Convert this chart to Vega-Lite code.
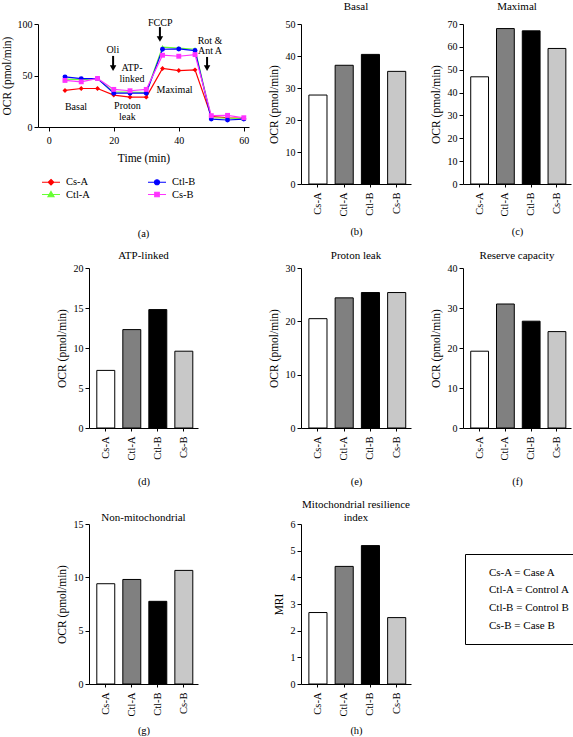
{
  "$schema": "https://vega.github.io/schema/vega-lite/v6.json",
  "background": "white",
  "padding": {"left": 1, "top": 0, "right": 0, "bottom": 0},
  "config": {
    "font": "Liberation Serif",
    "view": {"stroke": null},
    "axis": {
      "domainColor": "black", "tickColor": "black", "labelColor": "black", "titleColor": "black",
      "labelFont": "Liberation Serif", "titleFont": "Liberation Serif",
      "labelFontSize": 10, "titleFontSize": 11.5, "titleFontWeight": "normal",
      "grid": false, "tickSize": 4, "labelPadding": 2, "titlePadding": 6,
      "labelFlush": false, "labelOverlap": false
    },
    "axisBand": {"labelAngle": -90, "tickSize": 3, "labelPadding": 5, "titleFontSize": 10.5, "labelFontSize": 10.5},
    "title": {"font": "Liberation Serif", "fontSize": 11, "fontWeight": "normal", "color": "black", "anchor": "middle"},
    "style": {
      "group-title": {"fontWeight": "normal"},
      "guide-title": {"fontWeight": "normal"}
    },
    "legend": {"labelFont": "Liberation Serif", "labelColor": "black"}
  },
  "datasets": {
    "series": [
      {"series": "Cs-A", "time": 5, "ocr": 35.5}, {"series": "Cs-A", "time": 10, "ocr": 37.4}, {"series": "Cs-A", "time": 15, "ocr": 37.4},
      {"series": "Cs-A", "time": 20, "ocr": 31}, {"series": "Cs-A", "time": 25, "ocr": 29}, {"series": "Cs-A", "time": 30, "ocr": 29},
      {"series": "Cs-A", "time": 35, "ocr": 56.8}, {"series": "Cs-A", "time": 40, "ocr": 54.8}, {"series": "Cs-A", "time": 45, "ocr": 55.5},
      {"series": "Cs-A", "time": 50, "ocr": 10.3}, {"series": "Cs-A", "time": 55, "ocr": 9}, {"series": "Cs-A", "time": 60, "ocr": 8.4},
      {"series": "Ctl-A", "time": 5, "ocr": 46.5}, {"series": "Ctl-A", "time": 10, "ocr": 46}, {"series": "Ctl-A", "time": 15, "ocr": 47},
      {"series": "Ctl-A", "time": 20, "ocr": 34}, {"series": "Ctl-A", "time": 25, "ocr": 34}, {"series": "Ctl-A", "time": 30, "ocr": 33.5},
      {"series": "Ctl-A", "time": 35, "ocr": 77.5}, {"series": "Ctl-A", "time": 40, "ocr": 76.5}, {"series": "Ctl-A", "time": 45, "ocr": 75.5},
      {"series": "Ctl-A", "time": 50, "ocr": 9}, {"series": "Ctl-A", "time": 55, "ocr": 8.5}, {"series": "Ctl-A", "time": 60, "ocr": 8},
      {"series": "Ctl-B", "time": 5, "ocr": 48.7}, {"series": "Ctl-B", "time": 10, "ocr": 47}, {"series": "Ctl-B", "time": 15, "ocr": 47},
      {"series": "Ctl-B", "time": 20, "ocr": 32.8}, {"series": "Ctl-B", "time": 25, "ocr": 32.8}, {"series": "Ctl-B", "time": 30, "ocr": 32.8},
      {"series": "Ctl-B", "time": 35, "ocr": 75.5}, {"series": "Ctl-B", "time": 40, "ocr": 75.8}, {"series": "Ctl-B", "time": 45, "ocr": 74.2},
      {"series": "Ctl-B", "time": 50, "ocr": 7.7}, {"series": "Ctl-B", "time": 55, "ocr": 6.8}, {"series": "Ctl-B", "time": 60, "ocr": 7.7},
      {"series": "Cs-B", "time": 5, "ocr": 45.2}, {"series": "Cs-B", "time": 10, "ocr": 43.9}, {"series": "Cs-B", "time": 15, "ocr": 47.1},
      {"series": "Cs-B", "time": 20, "ocr": 36.5}, {"series": "Cs-B", "time": 25, "ocr": 35.2}, {"series": "Cs-B", "time": 30, "ocr": 36.5},
      {"series": "Cs-B", "time": 35, "ocr": 69.7}, {"series": "Cs-B", "time": 40, "ocr": 68.7}, {"series": "Cs-B", "time": 45, "ocr": 70.3},
      {"series": "Cs-B", "time": 50, "ocr": 11}, {"series": "Cs-B", "time": 55, "ocr": 11.3}, {"series": "Cs-B", "time": 60, "ocr": 9}
    ],
    "notes": [
      {"note": "Basal", "time": 8.4, "ocr": 19.4},
      {"note": "Oli", "time": 19.7, "ocr": 75},
      {"note": "ATP-", "time": 25.6, "ocr": 57.4},
      {"note": "linked", "time": 25.6, "ocr": 47},
      {"note": "Proton", "time": 24.2, "ocr": 20.3},
      {"note": "leak", "time": 24.2, "ocr": 9.7},
      {"note": "FCCP", "time": 34.3, "ocr": 101},
      {"note": "Maximal", "time": 38.7, "ocr": 36.4},
      {"note": "Rot &", "time": 49.6, "ocr": 83.8},
      {"note": "Ant A", "time": 49.6, "ocr": 73.5}
    ],
    "arrows": [
      {"time": 19.8, "ocr": 69, "head": 57.2},
      {"time": 34.2, "ocr": 97, "head": 85.5},
      {"time": 48.7, "ocr": 68, "head": 57.2}
    ],
    "bars": [
      {"panel": "Basal", "group": "Cs-A", "value": 27.8}, {"panel": "Basal", "group": "Ctl-A", "value": 37.1},
      {"panel": "Basal", "group": "Ctl-B", "value": 40.5}, {"panel": "Basal", "group": "Cs-B", "value": 35.2},
      {"panel": "Maximal", "group": "Cs-A", "value": 46.9}, {"panel": "Maximal", "group": "Ctl-A", "value": 68.0},
      {"panel": "Maximal", "group": "Ctl-B", "value": 67.0}, {"panel": "Maximal", "group": "Cs-B", "value": 59.3},
      {"panel": "ATP-linked", "group": "Cs-A", "value": 7.2}, {"panel": "ATP-linked", "group": "Ctl-A", "value": 12.3},
      {"panel": "ATP-linked", "group": "Ctl-B", "value": 14.8}, {"panel": "ATP-linked", "group": "Cs-B", "value": 9.6},
      {"panel": "Proton leak", "group": "Cs-A", "value": 20.5}, {"panel": "Proton leak", "group": "Ctl-A", "value": 24.4},
      {"panel": "Proton leak", "group": "Ctl-B", "value": 25.4}, {"panel": "Proton leak", "group": "Cs-B", "value": 25.4},
      {"panel": "Reserve capacity", "group": "Cs-A", "value": 19.2}, {"panel": "Reserve capacity", "group": "Ctl-A", "value": 31.0},
      {"panel": "Reserve capacity", "group": "Ctl-B", "value": 26.7}, {"panel": "Reserve capacity", "group": "Cs-B", "value": 24.1},
      {"panel": "Non-mitochondrial", "group": "Cs-A", "value": 9.4}, {"panel": "Non-mitochondrial", "group": "Ctl-A", "value": 9.8},
      {"panel": "Non-mitochondrial", "group": "Ctl-B", "value": 7.75}, {"panel": "Non-mitochondrial", "group": "Cs-B", "value": 10.65},
      {"panel": "MRI", "group": "Cs-A", "value": 2.68}, {"panel": "MRI", "group": "Ctl-A", "value": 4.41},
      {"panel": "MRI", "group": "Ctl-B", "value": 5.19}, {"panel": "MRI", "group": "Cs-B", "value": 2.49}
    ]
  },
  "columns": 4,
  "spacing": {"row": 84, "column": 52},
  "bounds": "flush",
  "align": "each",
  "center": {"row": false, "column": true},
  "resolve": {"scale": {"color": "independent", "shape": "independent", "fill": "independent"}},
  "concat": [
    {
      "width": 211, "height": 103,
      "title": {"text": "(a)", "orient": "bottom", "offset": 29, "fontSize": 10.5, "fontWeight": "normal"},
      "layer": [
        {
          "data": {"name": "series"},
          "mark": {"type": "line", "strokeWidth": 1.2},
          "encoding": {
            "x": {"field": "time", "type": "quantitative", "title": "Time (min)",
                  "scale": {"domain": [-3.3, 61.6], "nice": false, "zero": false},
                  "axis": {"values": [0, 10, 20, 30, 40, 50, 60], "labelPadding": 4, "titlePadding": 7, "titleFontWeight": "normal"}},
            "y": {"field": "ocr", "type": "quantitative", "title": "OCR (pmol/min)",
                  "scale": {"domain": [0, 100], "nice": false},
                  "axis": {"values": [0, 25, 50, 75, 100], "titlePadding": 5, "titleFontWeight": "normal"}},
            "color": {"field": "series", "type": "nominal",
                      "scale": {"domain": ["Cs-A", "Ctl-A", "Ctl-B", "Cs-B"], "range": ["#ff0000", "#66ff33", "#0000ff", "#ff33ff"]},
                      "legend": {
                        "orient": "none", "legendX": 7, "legendY": 152, "columns": 2, "title": null,
                        "padding": 0, "labelFontSize": 10.5, "symbolSize": 100, "labelOffset": 9,
                        "rowPadding": 0.5, "columnPadding": 55, "symbolStrokeWidth": 1.2,
                        "encode": {"symbols": {"update": {
                          "shape": {"signal": "datum.value === 'Cs-A' ? 'M-1.8,0H1.8M0,-0.55L0.55,0L0,0.55L-0.55,0Z' : datum.value === 'Ctl-A' ? 'M-1.8,0H1.8M0,-0.6L0.6,0.45L-0.6,0.45Z' : datum.value === 'Ctl-B' ? 'M-1.8,0H1.8M0.5,0A0.5,0.5 0 1,1 -0.5,0A0.5,0.5 0 1,1 0.5,0Z' : 'M-1.8,0H1.8M-0.45,-0.45H0.45V0.45H-0.45Z'"},
                          "fill": {"signal": "datum.value === 'Cs-A' ? '#ff0000' : datum.value === 'Ctl-A' ? '#66ff33' : datum.value === 'Ctl-B' ? '#0000ff' : '#ff33ff'"},
                          "stroke": {"signal": "datum.value === 'Cs-A' ? '#ff0000' : datum.value === 'Ctl-A' ? '#66ff33' : datum.value === 'Ctl-B' ? '#0000ff' : '#ff33ff'"},
                          "strokeWidth": {"value": 1.2},
                          "opacity": {"value": 1}
                        }}}
                      }}
          }
        },
        {
          "data": {"name": "series"},
          "mark": {"type": "point", "filled": true, "size": 24, "opacity": 1},
          "encoding": {
            "x": {"field": "time", "type": "quantitative"},
            "y": {"field": "ocr", "type": "quantitative"},
            "color": {"field": "series", "type": "nominal", "legend": null,
                      "scale": {"domain": ["Cs-A", "Ctl-A", "Ctl-B", "Cs-B"], "range": ["#ff0000", "#66ff33", "#0000ff", "#ff33ff"]}},
            "shape": {"field": "series", "type": "nominal", "legend": null,
                      "scale": {"domain": ["Ctl-A", "Cs-A", "Ctl-B", "Cs-B"], "range": ["triangle-up", "diamond", "circle", "square"]}}
          }
        },
        {
          "data": {"name": "notes"},
          "mark": {"type": "text", "fontSize": 10, "align": "center", "baseline": "middle", "color": "black"},
          "encoding": {
            "x": {"field": "time", "type": "quantitative"},
            "y": {"field": "ocr", "type": "quantitative"},
            "text": {"field": "note"}
          }
        },
        {
          "data": {"name": "arrows"},
          "mark": {"type": "rule", "strokeWidth": 2, "color": "black"},
          "encoding": {
            "x": {"field": "time", "type": "quantitative"},
            "y": {"field": "ocr", "type": "quantitative"},
            "y2": {"field": "head"}
          }
        },
        {
          "data": {"name": "arrows"},
          "mark": {"type": "point", "shape": "triangle-down", "filled": true, "size": 42, "color": "black", "opacity": 1},
          "encoding": {
            "x": {"field": "time", "type": "quantitative"},
            "y": {"field": "head", "type": "quantitative", "title": "OCR (pmol/min)"}
          }
        }
      ]
    },
    {
      "width": 110, "height": 160,
      "title": {"text": "Basal", "offset": 7.5, "fontWeight": "normal"},
      "data": {"name": "bars"},
      "transform": [{"filter": "datum.panel === 'Basal'"}],
      "mark": {"type": "bar", "stroke": "black", "strokeWidth": 1},
      "encoding": {
        "x": {"field": "group", "type": "nominal", "sort": ["Cs-A", "Ctl-A", "Ctl-B", "Cs-B"],
              "scale": {"paddingInner": 0.31, "paddingOuter": 0.25, "align": 0.6},
              "axis": {"title": "(b)", "titlePadding": 11, "titleFontWeight": "normal"}},
        "y": {"field": "value", "type": "quantitative", "scale": {"domain": [0, 50], "nice": false},
              "axis": {"values": [0, 10, 20, 30, 40, 50], "title": "OCR (pmol/min)", "titleFontWeight": "normal"}},
        "fill": {"field": "group", "type": "nominal", "legend": null,
                 "scale": {"domain": ["Cs-A", "Ctl-A", "Ctl-B", "Cs-B"], "range": ["#ffffff", "#808080", "#000000", "#c8c8c8"]}}
      }
    },
    {
      "width": 108, "height": 160,
      "title": {"text": "Maximal", "offset": 7.5, "fontWeight": "normal"},
      "data": {"name": "bars"},
      "transform": [{"filter": "datum.panel === 'Maximal'"}],
      "mark": {"type": "bar", "stroke": "black", "strokeWidth": 1},
      "encoding": {
        "x": {"field": "group", "type": "nominal", "sort": ["Cs-A", "Ctl-A", "Ctl-B", "Cs-B"],
              "scale": {"paddingInner": 0.31, "paddingOuter": 0.25, "align": 0.6},
              "axis": {"title": "(c)", "titlePadding": 11, "titleFontWeight": "normal"}},
        "y": {"field": "value", "type": "quantitative", "scale": {"domain": [0, 70], "nice": false},
              "axis": {"values": [0, 10, 20, 30, 40, 50, 60, 70], "title": "OCR (pmol/min)", "titleFontWeight": "normal"}},
        "fill": {"field": "group", "type": "nominal", "legend": null,
                 "scale": {"domain": ["Cs-A", "Ctl-A", "Ctl-B", "Cs-B"], "range": ["#ffffff", "#808080", "#000000", "#c8c8c8"]}}
      }
    },
    {
      "width": 1, "height": 1,
      "data": {"values": []},
      "mark": "point"
    },
    {
      "width": 109, "height": 160,
      "title": {"text": "ATP-linked", "offset": 2, "fontWeight": "normal"},
      "data": {"name": "bars"},
      "transform": [{"filter": "datum.panel === 'ATP-linked'"}],
      "mark": {"type": "bar", "stroke": "black", "strokeWidth": 1},
      "encoding": {
        "x": {"field": "group", "type": "nominal", "sort": ["Cs-A", "Ctl-A", "Ctl-B", "Cs-B"],
              "scale": {"paddingInner": 0.31, "paddingOuter": 0.25, "align": 0.6},
              "axis": {"title": "(d)", "titlePadding": 17, "titleFontWeight": "normal"}},
        "y": {"field": "value", "type": "quantitative", "scale": {"domain": [0, 20], "nice": false},
              "axis": {"values": [0, 5, 10, 15, 20], "title": "OCR (pmol/min)", "titleFontWeight": "normal"}},
        "fill": {"field": "group", "type": "nominal", "legend": null,
                 "scale": {"domain": ["Cs-A", "Ctl-A", "Ctl-B", "Cs-B"], "range": ["#ffffff", "#808080", "#000000", "#c8c8c8"]}}
      }
    },
    {
      "width": 110, "height": 160,
      "title": {"text": "Proton leak", "offset": 2, "fontWeight": "normal"},
      "data": {"name": "bars"},
      "transform": [{"filter": "datum.panel === 'Proton leak'"}],
      "mark": {"type": "bar", "stroke": "black", "strokeWidth": 1},
      "encoding": {
        "x": {"field": "group", "type": "nominal", "sort": ["Cs-A", "Ctl-A", "Ctl-B", "Cs-B"],
              "scale": {"paddingInner": 0.31, "paddingOuter": 0.25, "align": 0.6},
              "axis": {"title": "(e)", "titlePadding": 17, "titleFontWeight": "normal"}},
        "y": {"field": "value", "type": "quantitative", "scale": {"domain": [0, 30], "nice": false},
              "axis": {"values": [0, 10, 20, 30], "title": "OCR (pmol/min)", "titleFontWeight": "normal"}},
        "fill": {"field": "group", "type": "nominal", "legend": null,
                 "scale": {"domain": ["Cs-A", "Ctl-A", "Ctl-B", "Cs-B"], "range": ["#ffffff", "#808080", "#000000", "#c8c8c8"]}}
      }
    },
    {
      "width": 108, "height": 160,
      "title": {"text": "Reserve capacity", "offset": 2, "fontWeight": "normal"},
      "data": {"name": "bars"},
      "transform": [{"filter": "datum.panel === 'Reserve capacity'"}],
      "mark": {"type": "bar", "stroke": "black", "strokeWidth": 1},
      "encoding": {
        "x": {"field": "group", "type": "nominal", "sort": ["Cs-A", "Ctl-A", "Ctl-B", "Cs-B"],
              "scale": {"paddingInner": 0.31, "paddingOuter": 0.25, "align": 0.6},
              "axis": {"title": "(f)", "titlePadding": 17, "titleFontWeight": "normal"}},
        "y": {"field": "value", "type": "quantitative", "scale": {"domain": [0, 40], "nice": false},
              "axis": {"values": [0, 10, 20, 30, 40], "title": "OCR (pmol/min)", "titleFontWeight": "normal"}},
        "fill": {"field": "group", "type": "nominal", "legend": null,
                 "scale": {"domain": ["Cs-A", "Ctl-A", "Ctl-B", "Cs-B"], "range": ["#ffffff", "#808080", "#000000", "#c8c8c8"]}}
      }
    },
    {
      "width": 1, "height": 172,
      "data": {"values": []},
      "mark": "point"
    },
    {
      "width": 109, "height": 160,
      "title": {"text": "Non-mitochondrial", "offset": -3.5, "fontWeight": "normal"},
      "data": {"name": "bars"},
      "transform": [{"filter": "datum.panel === 'Non-mitochondrial'"}],
      "mark": {"type": "bar", "stroke": "black", "strokeWidth": 1},
      "encoding": {
        "x": {"field": "group", "type": "nominal", "sort": ["Cs-A", "Ctl-A", "Ctl-B", "Cs-B"],
              "scale": {"paddingInner": 0.31, "paddingOuter": 0.25, "align": 0.6},
              "axis": {"title": "(g)", "titlePadding": 10, "titleFontWeight": "normal"}},
        "y": {"field": "value", "type": "quantitative", "scale": {"domain": [0, 15], "nice": false},
              "axis": {"values": [0, 5, 10, 15], "title": "OCR (pmol/min)", "titleFontWeight": "normal"}},
        "fill": {"field": "group", "type": "nominal", "legend": null,
                 "scale": {"domain": ["Cs-A", "Ctl-A", "Ctl-B", "Cs-B"], "range": ["#ffffff", "#808080", "#000000", "#c8c8c8"]}}
      }
    },
    {
      "width": 110, "height": 160,
      "title": {"text": ["Mitochondrial resilience", "index"], "offset": -3.5, "fontWeight": "normal"},
      "data": {"name": "bars"},
      "transform": [{"filter": "datum.panel === 'MRI'"}],
      "mark": {"type": "bar", "stroke": "black", "strokeWidth": 1},
      "encoding": {
        "x": {"field": "group", "type": "nominal", "sort": ["Cs-A", "Ctl-A", "Ctl-B", "Cs-B"],
              "scale": {"paddingInner": 0.31, "paddingOuter": 0.25, "align": 0.6},
              "axis": {"title": "(h)", "titlePadding": 10, "titleFontWeight": "normal"}},
        "y": {"field": "value", "type": "quantitative", "scale": {"domain": [0, 6], "nice": false},
              "axis": {"values": [0, 1, 2, 3, 4, 5, 6], "title": "MRI", "titleFontWeight": "normal"}},
        "fill": {"field": "group", "type": "nominal",
                 "scale": {"domain": ["Cs-A", "Ctl-A", "Ctl-B", "Cs-B"], "range": ["#ffffff", "#808080", "#000000", "#c8c8c8"]},
                 "legend": {
                   "orient": "none", "legendX": 164, "legendY": 30, "title": null,
                   "strokeColor": "black", "padding": 13, "labelFontSize": 11, "rowPadding": 5.7,
                   "symbolOpacity": 0, "symbolSize": 0, "labelOffset": 0, "labelLimit": 0,
                   "labelExpr": "datum.label === 'Cs-A' ? 'Cs-A = Case A' : datum.label === 'Ctl-A' ? 'Ctl-A = Control A' : datum.label === 'Ctl-B' ? 'Ctl-B = Control B' : 'Cs-B = Case B'"
                 }}
      }
    }
  ]
}
